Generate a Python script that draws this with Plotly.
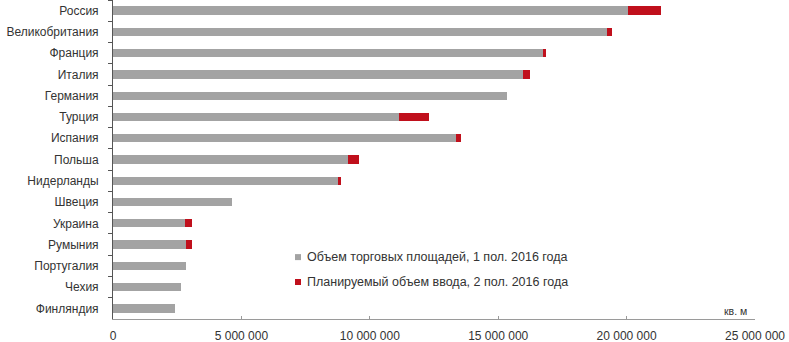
import plotly.graph_objects as go

countries = ["Россия", "Великобритания", "Франция", "Италия", "Германия", "Турция",
             "Испания", "Польша", "Нидерланды", "Швеция", "Украина", "Румыния",
             "Португалия", "Чехия", "Финляндия"]
existing = [20050000, 19250000, 16750000, 15960000, 15360000, 11120000,
            13370000, 9170000, 8780000, 4650000, 2810000, 2830000,
            2830000, 2640000, 2420000]
planned = [1280000, 180000, 100000, 260000, 0, 1190000,
           180000, 390000, 100000, 0, 260000, 240000,
           0, 0, 0]
series_names = ["Объем торговых площадей, 1 пол. 2016 года",
                "Планируемый объем ввода, 2 пол. 2016 года"]
series_colors = ["#a3a3a3", "#c0101c"]
x_ticks = [0, 5000000, 10000000, 15000000, 20000000, 25000000]
x_ticktext = ["0", "5 000 000", "10 000 000", "15 000 000", "20 000 000", "25 000 000"]
unit_label = "кв. м"

FONT = "Liberation Sans, Arial, sans-serif"
TXT = "#333333"

fig = go.Figure()
fig.add_trace(go.Bar(y=countries, x=existing, orientation="h", name=series_names[0],
                     marker=dict(color=series_colors[0], line=dict(width=0)), width=0.39))
fig.add_trace(go.Bar(y=countries, x=planned, orientation="h", name=series_names[1],
                     marker=dict(color=series_colors[1], line=dict(width=0)), width=0.39))

fig.update_layout(
    width=789, height=342,
    barmode="stack",
    plot_bgcolor="white", paper_bgcolor="white",
    margin=dict(l=113, r=34, t=0, b=23, autoexpand=False),
    font=dict(family=FONT, size=12, color=TXT),
    showlegend=False,
    xaxis=dict(range=[0, 25000000], tickvals=x_ticks, ticktext=x_ticktext,
               showgrid=False, zeroline=False, showline=True, linecolor="#9a9a9a",
               linewidth=1, ticks="inside", ticklen=3, tickcolor="#9a9a9a",
               ticklabelstandoff=6, automargin=False,
               tickfont=dict(size=12, color=TXT)),
    yaxis=dict(categoryorder="array", categoryarray=countries, autorange="reversed",
               showgrid=False, zeroline=False, showline=True, linecolor="#555555",
               linewidth=1, ticks="outside", ticklen=4, tickcolor="#555555",
               tickson="boundaries", ticklabelstandoff=11, automargin=False,
               tickfont=dict(size=12, color=TXT)),
)

# custom legend (small squares + text), positioned in paper coordinates
legend_y = [0.194, 0.116]
for name, col, ly in zip(series_names, series_colors, legend_y):
    fig.add_shape(type="rect", xref="paper", yref="paper",
                  x0=0.2835, x1=0.2835 + 6 / 642, y0=ly - 3 / 319, y1=ly + 3 / 319,
                  fillcolor=col, line=dict(width=0))
    fig.add_annotation(x=0.2990, y=ly, xref="paper", yref="paper", text=name,
                       showarrow=False, xanchor="left", yanchor="middle",
                       font=dict(size=12.5, color=TXT))

fig.add_annotation(x=24250000, y=0, xref="x", yref="paper", text=unit_label,
                   showarrow=False, yanchor="bottom", yshift=0,
                   font=dict(size=10.5, color=TXT))

fig.write_html("out.html", config={"displayModeBar": False},
               post_script="document.body.style.margin='0';document.body.style.padding='0';")
